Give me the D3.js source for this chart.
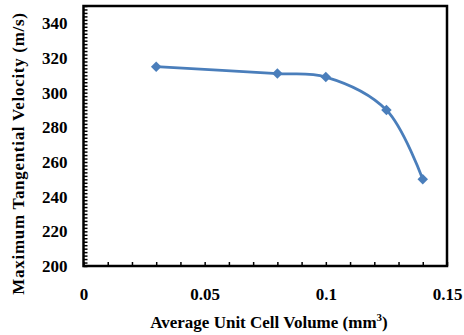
<!DOCTYPE html>
<html lang="en">
  <head>
    <meta charset="utf-8" />
    <title>Tangential Velocity</title>
    <script src="https://d3js.org/d3.v7.min.js"></script>
    <style>
      body { margin: 0; background: #fff; }
      text { font-family: "Liberation Serif", "Times New Roman", serif; font-weight: bold; }
    </style>
  </head>
  <body>
    <div id="chart"></div>
    <script>
      // values
      var volume = [0.03, 0.08, 0.1, 0.125, 0.14];
      var velocity = [315, 311, 309, 290, 250];
      var xTicks = [0, 0.05, 0.1, 0.15];
      var yTicks = [200, 220, 240, 260, 280, 300, 320, 340];

      var width = 464, height = 335;
      var margin = { top: 6, right: 17, bottom: 69, left: 83.5 };
      var w = width - margin.left - margin.right,
        h = height - margin.top - margin.bottom;

      var svg = d3
        .select("#chart")
        .append("svg")
        .attr("width", width)
        .attr("height", height);

      var g = svg
        .append("g")
        .attr("transform", "translate(" + margin.left + "," + margin.top + ")");

      var x = d3.scaleLinear().domain([0, 0.15]).range([0, w]);
      var y = d3.scaleLinear().domain([200, 350]).range([h, 0]);

      // minor ticks
      g.append("g")
        .attr("class", "minor")
        .attr("transform", "translate(0," + h + ")")
        .call(d3.axisBottom(x).tickValues(d3.range(0, 0.1501, 0.01)).tickSize(-4).tickFormat(""))
        .call((s) => s.select(".domain").remove());
      g.append("g")
        .attr("class", "minor")
        .call(d3.axisLeft(y).tickValues(d3.range(200, 350.1, 2)).tickSize(-4).tickFormat(""))
        .call((s) => s.select(".domain").remove());
      g.selectAll(".minor line").attr("stroke", "#000").attr("stroke-width", 1.5);

      // frame
      g.append("rect")
        .attr("width", w)
        .attr("height", h)
        .attr("fill", "none")
        .attr("stroke", "#000")
        .attr("stroke-width", 2.5);

      var xAxis = g
        .append("g")
        .attr("transform", "translate(0," + h + ")")
        .call(d3.axisBottom(x).tickValues(xTicks).tickSize(0).tickPadding(22).tickFormat((d) => String(d)));
      xAxis.select(".domain").remove();
      xAxis.selectAll("text").attr("font-size", 17).attr("fill", "#000");

      var yAxis = g
        .append("g")
        .call(d3.axisLeft(y).tickValues(yTicks).tickSize(0).tickPadding(16));
      yAxis.select(".domain").remove();
      yAxis.selectAll("text").attr("font-size", 17).attr("fill", "#000");

      var line = d3
        .line()
        .x((d, i) => x(volume[i]))
        .y((d) => y(d))
        .curve(d3.curveCatmullRom.alpha(0.5));

      g.append("path")
        .datum(velocity)
        .attr("d", line)
        .attr("fill", "none")
        .attr("stroke", "#4a7ebb")
        .attr("stroke-width", 2.75);

      g.selectAll(".pt")
        .data(velocity)
        .enter()
        .append("path")
        .attr("class", "pt")
        .attr("d", d3.symbol().type(d3.symbolDiamond2).size(70))
        .attr("transform", (d, i) => "translate(" + x(volume[i]) + "," + y(d) + ")")
        .attr("fill", "#4a7ebb");

      // axis titles
      var xt = svg
        .append("text")
        .attr("x", 269)
        .attr("y", 328)
        .attr("text-anchor", "middle")
        .attr("font-size", 17);
      xt.append("tspan").text("Average Unit Cell Volume (mm");
      xt.append("tspan").attr("font-size", 11).attr("dy", -7).text("3");
      xt.append("tspan").attr("dy", 7).text(")");

      svg
        .append("text")
        .attr("transform", "translate(24,153.5) rotate(-90)")
        .attr("text-anchor", "middle")
        .attr("font-size", 17)
        .attr("letter-spacing", 0.7)
        .text("Maximum Tangential Velocity (m/s)");
    </script>
  </body>
</html>
